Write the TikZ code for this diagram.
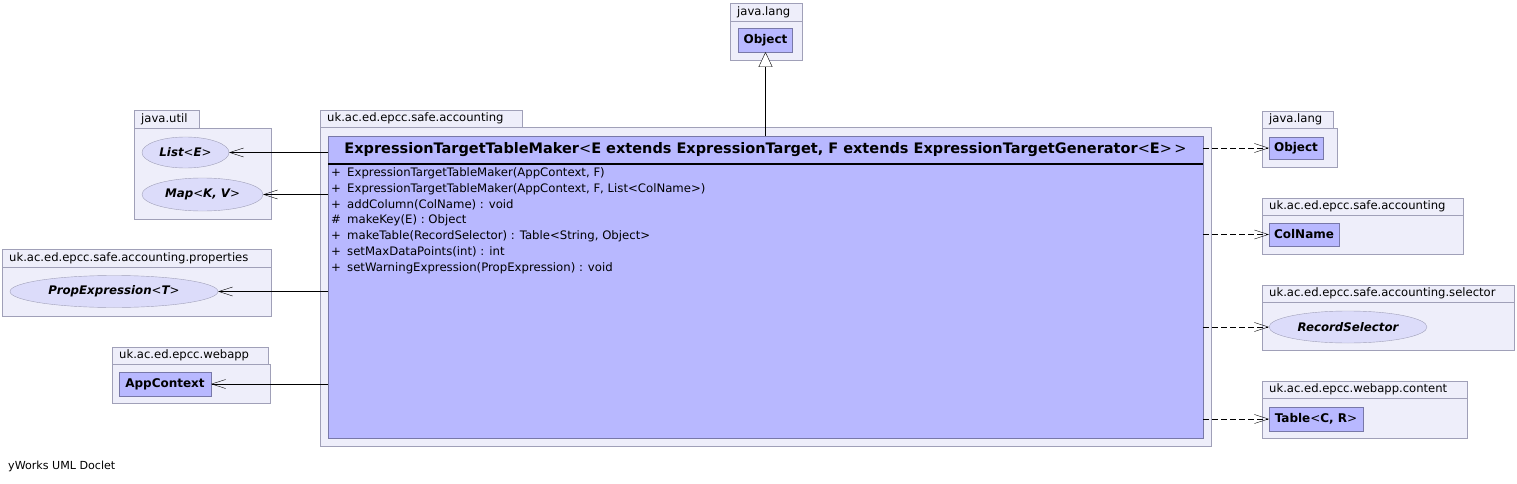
\documentclass[tikz,border=0pt]{standalone}
\usepackage{fontspec}
\setmainfont{DejaVu Sans}
\usetikzlibrary{arrows.meta,shapes.geometric}
\definecolor{pkgfill}{RGB}{238,238,250}
\definecolor{pkgline}{RGB}{160,160,184}
\definecolor{clsfill}{RGB}{184,184,255}
\definecolor{clsline}{RGB}{120,120,168}
\definecolor{ifill}{RGB}{220,220,250}
\newcommand\lt{{\mdseries<}}
\newcommand\gt{{\mdseries>}}
\tikzset{
  pkgtab/.style={draw=pkgline, fill=pkgfill, anchor=north west, inner sep=0pt, outer sep=0pt},
  pkgbody/.style={draw=pkgline, fill=pkgfill, anchor=north west, inner sep=0pt, outer sep=0pt},
  pkglabel/.style={anchor=west, inner sep=0pt, font=\fontsize{11.6}{14}\selectfont},
  clsbox/.style={draw=clsline, fill=clsfill, inner sep=0pt, outer sep=0pt, font=\fontsize{12}{14}\selectfont\bfseries},
  ifbox/.style={ellipse, draw=pkgline, fill=ifill, inner sep=0pt, outer sep=0pt, font=\fontsize{11.8}{14}\selectfont\bfseries\itshape},
  member/.style={anchor=west, inner sep=0pt, font=\fontsize{11.7}{14}\selectfont},
  assoc/.style={draw=black, -{Straight Barb[length=14pt,width=9pt]}},
  dep/.style={draw=black, dashed, dash pattern=on 6pt off 3pt, -{Straight Barb[length=14pt,width=9pt]}},
  inherit/.style={draw=black, -{Triangle[open,length=15pt,width=14pt,fill=white]}},
}
\begin{document}
\begin{tikzpicture}[x=1pt,y=-1pt]
\path[use as bounding box, fill=white] (0,0) rectangle (1517,484);

% ---------- packages ----------
% java.lang (top)
\node[pkgtab, minimum width=72pt, minimum height=18pt] (tabA) at (730,3) {};
\node[pkgbody, minimum width=72pt, minimum height=39pt] (pkgA) at (730,21) {};
\node[pkglabel] (labA) at (737,12) {java.lang};

% java.util
\node[pkgtab, minimum width=65pt, minimum height=18pt] (tabB) at (134,110) {};
\node[pkgbody, minimum width=137pt, minimum height=91pt] (pkgB) at (134,128) {};
\node[pkglabel] (labB) at (141,119) {java.util};

% main package
\node[pkgtab, minimum width=202pt, minimum height=17pt] (tabC) at (320,110) {};
\node[pkgbody, minimum width=891pt, minimum height=319pt] (pkgC) at (320,127) {};
\node[pkglabel] (labC) at (327,118.5) {uk.ac.ed.epcc.safe.accounting};

% properties
\node[pkgtab, minimum width=269pt, minimum height=18pt] (tabD) at (2,249) {};
\node[pkgbody, minimum width=269pt, minimum height=49pt] (pkgD) at (2,267) {};
\node[pkglabel] (labD) at (9,258) {uk.ac.ed.epcc.safe.accounting.properties};

% webapp
\node[pkgtab, minimum width=156pt, minimum height=17pt] (tabE) at (112,347) {};
\node[pkgbody, minimum width=158pt, minimum height=39pt] (pkgE) at (112,364) {};
\node[pkglabel] (labE) at (119,355.5) {uk.ac.ed.epcc.webapp};

% java.lang (right)
\node[pkgtab, minimum width=71pt, minimum height=17pt] (tabF) at (1262,111) {};
\node[pkgbody, minimum width=75pt, minimum height=39pt] (pkgF) at (1262,128) {};
\node[pkglabel] (labF) at (1269,119.5) {java.lang};

% accounting (right)
\node[pkgtab, minimum width=201pt, minimum height=17pt] (tabG) at (1262,198) {};
\node[pkgbody, minimum width=201pt, minimum height=39pt] (pkgG) at (1262,215) {};
\node[pkglabel] (labG) at (1269,206.5) {uk.ac.ed.epcc.safe.accounting};

% selector
\node[pkgtab, minimum width=252pt, minimum height=17pt] (tabH) at (1262,285) {};
\node[pkgbody, minimum width=252pt, minimum height=48pt] (pkgH) at (1262,302) {};
\node[pkglabel] (labH) at (1269,293.5) {uk.ac.ed.epcc.safe.accounting.selector};

% content
\node[pkgtab, minimum width=205pt, minimum height=17pt] (tabI) at (1262,381) {};
\node[pkgbody, minimum width=205pt, minimum height=40pt] (pkgI) at (1262,398) {};
\node[pkglabel] (labI) at (1269,389.5) {uk.ac.ed.epcc.webapp.content};

% ---------- classes / interfaces ----------
\node[clsbox, minimum width=54pt, minimum height=24pt] (objTop) at (765.5,40) {Object};
\node[ifbox, minimum width=87pt, minimum height=31pt] (list) at (185.5,152.5) {List\lt E\gt};
\node[ifbox, minimum width=121pt, minimum height=33pt] (map) at (202.5,194.5) {Map\lt K, V\gt};
\node[ifbox, minimum width=208pt, minimum height=32pt] (prop) at (114,291.5) {PropExpression\lt T\gt};
\node[clsbox, minimum width=92pt, minimum height=24pt] (app) at (165,384) {AppContext};
\node[clsbox, minimum width=54pt, minimum height=22pt] (objR) at (1296,148) {Object};
\node[clsbox, minimum width=70pt, minimum height=23pt] (col) at (1304,234.5) {ColName};
\node[ifbox, minimum width=158pt, minimum height=32pt] (rec) at (1348,327) {RecordSelector};
\node[clsbox, minimum width=94pt, minimum height=24pt] (tab) at (1316,419) {Table\lt C, R\gt};

% main class
\node[draw=clsline, fill=clsfill, anchor=north west, inner sep=0pt, outer sep=0pt,
      minimum width=875pt, minimum height=302pt] (main) at (328,136) {};
\draw[line width=2.5pt] (328,164) -- (1203,164);
\node[inner sep=0pt, font=\fontsize{14.5}{17}\selectfont\bfseries] (mainname) at (765.5,150)
  {ExpressionTargetTableMaker\lt E extends ExpressionTarget, F extends ExpressionTargetGenerator\lt E\gt\,\gt};
\foreach \s/\t [count=\i] in {
  +/{ExpressionTargetTableMaker(AppContext, F)},
  +/{ExpressionTargetTableMaker(AppContext, F, List<ColName>)},
  +/{addColumn(ColName) : void},
  \#/{makeKey(E) : Object},
  +/{makeTable(RecordSelector) : Table<String, Object>},
  +/{setMaxDataPoints(int) : int},
  +/{setWarningExpression(PropExpression) : void}}
  \node[member] (m\i) at (331,{173+15.85*(\i-1)}) {\makebox[16pt][l]{\s}\t};

% ---------- connectors ----------
\draw[inherit] (main.north) -- (objTop.south);
\draw[assoc] (main.west |- list.east) -- (list.east);
\draw[assoc] (main.west |- map.east) -- (map.east);
\draw[assoc] (main.west |- prop.east) -- (prop.east);
\draw[assoc] (main.west |- app.east) -- (app.east);
\draw[dep] (main.east |- objR.west) -- (objR.west);
\draw[dep] (main.east |- col.west) -- (col.west);
\draw[dep] (main.east |- rec.west) -- (rec.west);
\draw[dep] (main.east |- tab.west) -- (tab.west);

\node[anchor=west, inner sep=0pt, font=\fontsize{11.1}{13}\selectfont] (credit) at (8,466) {yWorks UML Doclet};
\end{tikzpicture}
\end{document}
